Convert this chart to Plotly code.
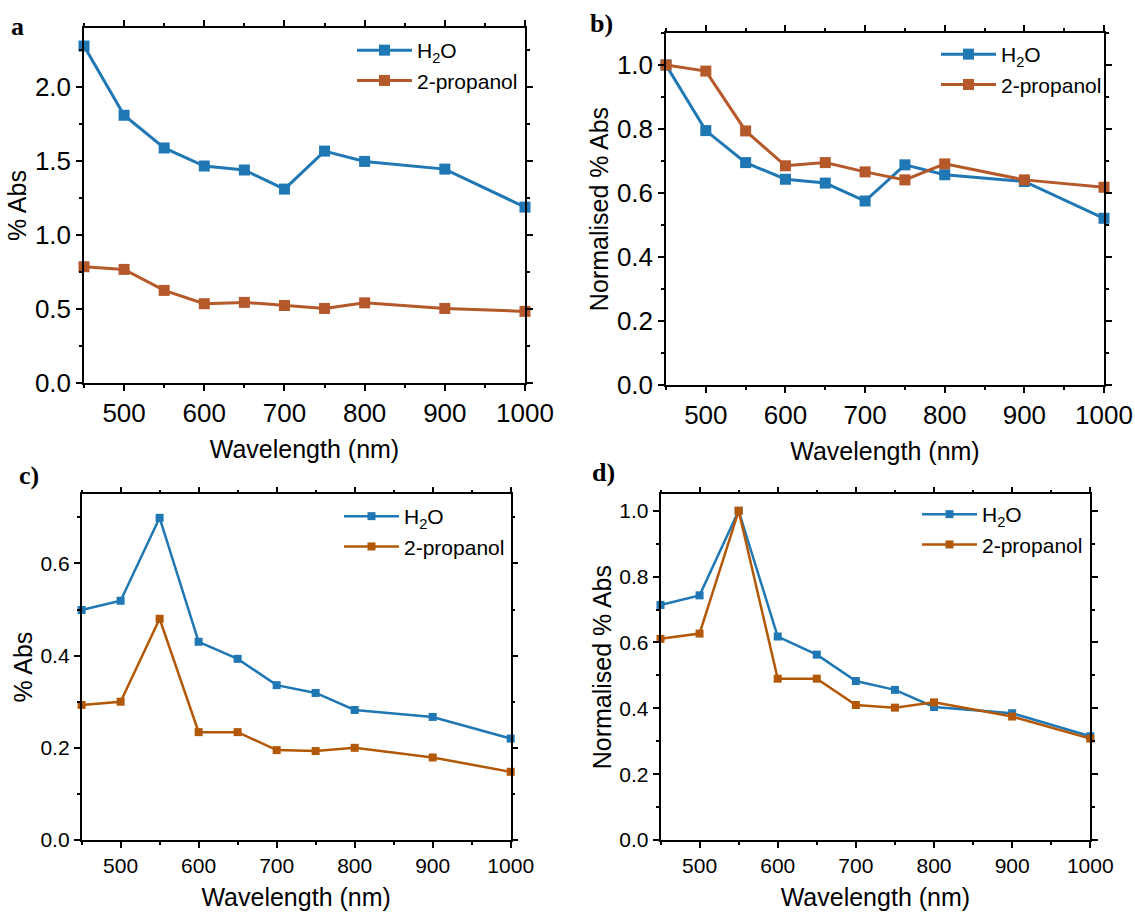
import plotly.graph_objects as go

# wavelengths (nm)
wl = [450, 500, 550, 600, 650, 700, 750, 800, 900, 1000]

# panel a: % Abs
a_h2o = [2.278, 1.810, 1.589, 1.467, 1.440, 1.311, 1.568, 1.498, 1.446, 1.189]
a_prop = [0.786, 0.768, 0.626, 0.536, 0.545, 0.524, 0.504, 0.542, 0.504, 0.484]

# panel b: normalised % Abs
b_h2o = [1.0, 0.795, 0.695, 0.643, 0.631, 0.575, 0.688, 0.657, 0.636, 0.521]
b_prop = [1.0, 0.981, 0.794, 0.685, 0.695, 0.666, 0.641, 0.691, 0.641, 0.618]

# panel c: % Abs
c_h2o = [0.499, 0.519, 0.699, 0.430, 0.393, 0.336, 0.319, 0.282, 0.267, 0.220]
c_prop = [0.293, 0.300, 0.480, 0.234, 0.234, 0.195, 0.193, 0.200, 0.179, 0.148]

# panel d: normalised % Abs
d_h2o = [0.714, 0.743, 1.0, 0.618, 0.563, 0.483, 0.456, 0.404, 0.385, 0.315]
d_prop = [0.611, 0.627, 1.0, 0.490, 0.490, 0.410, 0.402, 0.418, 0.375, 0.308]

W, H = 1135, 912
FONT = "Arial, 'Liberation Sans', sans-serif"
BLUE = "#1f77b4"
BROWN_AB = "#b5582a"
BROWN_CD = "#b35806"


def px(x):
    return x / W


def py(y):
    return 1 - y / H


panels = [
    dict(ax="", h2o=a_h2o, prop=a_prop, c2=BROWN_AB, box=(84, 525, 28, 383),
         yr=[0, 2.4], dt=0.5, mdt=0.25, yt="% Abs", ts=26, ms=11, lw=3,
         leg=(352, 30), xso=14, yso=1),
    dict(ax="2", h2o=b_h2o, prop=b_prop, c2=BROWN_AB, box=(666, 1104, 33, 385),
         yr=[0, 1.1], dt=0.2, mdt=0.1, yt="Normalised % Abs", ts=26, ms=11, lw=3,
         leg=(936, 34), xso=14, yso=1),
    dict(ax="3", h2o=c_h2o, prop=c_prop, c2=BROWN_CD, box=(81.6, 510.7, 494.3, 840),
         yr=[0, 0.75], dt=0.2, mdt=0.1, yt="% Abs", ts=21, ms=8, lw=2.5,
         leg=(339, 496), xso=13, yso=1),
    dict(ax="4", h2o=d_h2o, prop=d_prop, c2=BROWN_CD, box=(660.5, 1090.3, 494.3, 840),
         yr=[0, 1.05], dt=0.2, mdt=0.1, yt="Normalised % Abs", ts=21, ms=8, lw=2.5,
         leg=(917, 494), xso=13, yso=1),
]

fig = go.Figure()
layout = {}
for i, p in enumerate(panels):
    xa = "x" + p["ax"]
    ya = "y" + p["ax"]
    legname = "legend" + ("" if i == 0 else str(i + 1))
    for name, ys, col in [("H<sub>2</sub>O", p["h2o"], BLUE), ("2-propanol", p["prop"], p["c2"])]:
        fig.add_trace(go.Scatter(
            x=wl, y=ys, name=name, mode="lines+markers", xaxis=xa, yaxis=ya,
            legend=legname, cliponaxis=False,
            line=dict(color=col, width=p["lw"]),
            marker=dict(symbol="square", size=p["ms"], color=col),
        ))
    l, r, t, b = p["box"]
    common = dict(showline=True, linecolor="black", linewidth=1.5, mirror="ticks",
                  ticks="outside", ticklen=6, tickwidth=1.5, tickcolor="black",
                  showgrid=False, zeroline=False, automargin=False,
                  tickfont=dict(family=FONT, size=p["ts"], color="black"))
    layout["xaxis" + p["ax"]] = dict(
        common, domain=[px(l), px(r)], range=[450, 1000], anchor=ya,
        tickvals=[500, 600, 700, 800, 900, 1000],
        minor=dict(tickvals=[450, 550, 650, 750, 850, 950], ticklen=3, tickwidth=1.5,
                   tickcolor="black", ticks="outside"),
        title=dict(text="Wavelength (nm)", font=dict(family=FONT, size=25, color="black"),
                   standoff=p["xso"]),
    )
    layout["yaxis" + p["ax"]] = dict(
        common, domain=[py(b), py(t)], range=p["yr"], anchor=xa,
        dtick=p["dt"], tick0=0, tickformat=".1f",
        minor=dict(dtick=p["mdt"], tick0=0, ticklen=3, tickwidth=1.5,
                   tickcolor="black", ticks="outside"),
        title=dict(text=p["yt"], font=dict(family=FONT, size=25, color="black"),
                   standoff=p["yso"]),
    )
    lx, ly = p["leg"]
    layout[legname] = dict(
        x=px(lx), y=py(ly), xanchor="left", yanchor="top", xref="paper", yref="paper",
        bgcolor="rgba(0,0,0,0)", borderwidth=0, itemwidth=55,
        font=dict(family=FONT, size=21, color="black"), tracegroupgap=0,
    )

labels = [("a", 17, 26), ("b)", 601, 24), ("c)", 29, 475), ("d)", 603, 472)]
anns = []
for txt, x, y in labels:
    anns.append(dict(text="<b>" + txt + "</b>", x=px(x), y=py(y), xref="paper", yref="paper",
                     xanchor="center", yanchor="middle", showarrow=False,
                     font=dict(family="'Times New Roman', 'Liberation Serif', serif",
                               size=26, color="black")))

fig.update_layout(**layout)
fig.update_layout(
    width=W, height=H, margin=dict(l=0, r=0, t=0, b=0, autoexpand=False),
    paper_bgcolor="white", plot_bgcolor="white",
    annotations=anns, showlegend=True,
)

# drop the page's default body margin so the figure fills the window
fig.write_html("out.html", config={"displayModeBar": False},
               post_script="document.body.style.margin='0';"
                           "document.body.style.overflow='hidden';")
